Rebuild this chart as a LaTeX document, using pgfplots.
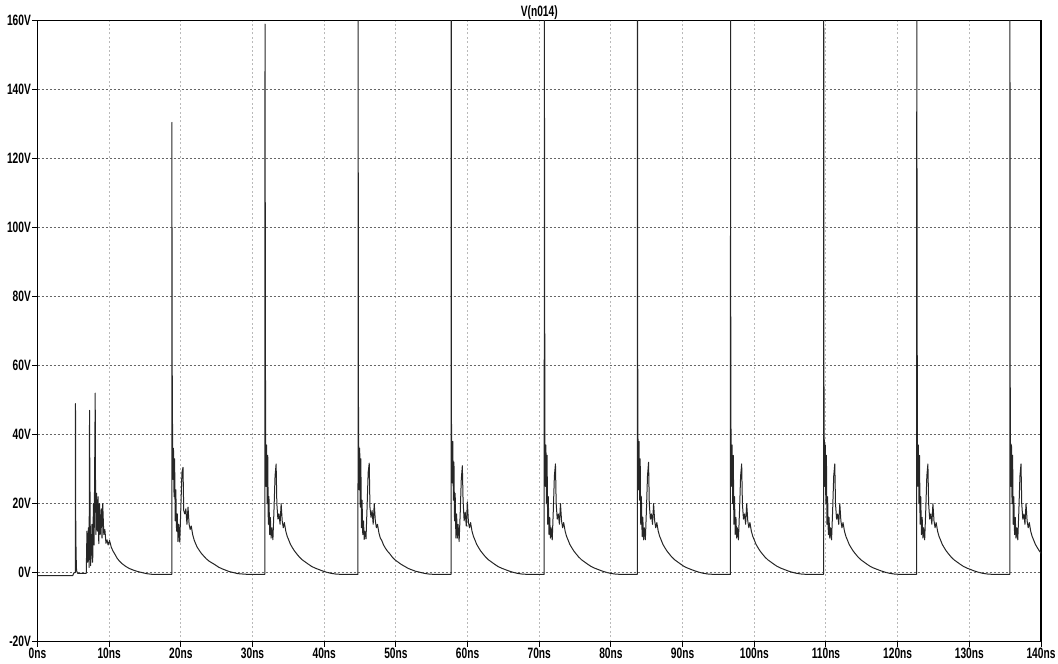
\documentclass[border=0pt]{standalone}
\usepackage{fontspec}
\setmainfont{Liberation Sans}[FakeStretch=0.68]
\usepackage{pgfplots}
\usepackage{pgfplotstable}
\pgfplotsset{compat=1.18}

% V(n014), time in ns, voltage in V
\pgfplotstableread{
t v
0 -0.9
4.9 -0.9
5.1 0
5.28 0
5.30 49
5.32 18.5
5.38 5.5
5.45 0.5
5.6 -0.2
6.8 -0.2
6.9 12
7.0 3
7.1 13
7.2 1.5
7.26 47
7.29 33
7.4 2
7.5 5
7.6 14
7.7 3
7.8 20
7.9 8
8.05 52
8.08 30
8.15 11
8.25 23
8.35 12
8.45 22
8.55 8.4
8.65 20
8.75 11
8.9 18.5
9.0 10
9.1 20
9.25 11
9.4 12.5
9.55 8.5
9.7 9.5
9.85 8
10.05 9.3
10.3 7.3
10.55 6.2
10.75 5.5
11.1 4.2
11.4 3.4
11.8 2.6
12.3 1.8
12.8 1.2
13.4 0.7
14.0 0.3
14.6 0.0
15.2 -0.3
16.0 -0.5
18.73 -0.5
18.75 130.5
18.78 65
18.83 44
18.90 27
18.97 36
19.05 22
19.13 33
19.21 15
19.30 24
19.40 12
19.50 17
19.60 9
19.70 14
19.85 8.8
20.00 19
20.15 29
20.30 30.5
20.40 18
20.55 17
20.70 18.5
20.85 14
21.00 19
21.15 14
21.30 12.5
21.45 13.5
21.65 11
21.85 9.5
22.05 8.4
22.30 7.3
22.55 6.5
22.85 5.6
23.15 4.9
23.55 4.0
23.95 3.3
24.35 2.8
24.75 2.3
25.25 1.6
25.75 1.1
26.25 0.7
26.75 0.3
27.35 0.0
27.95 -0.3
28.55 -0.4
29.25 -0.5
31.72 -0.5
31.74 159
31.77 112
31.82 38
31.89 25
31.96 37
32.04 20
32.12 34
32.20 14
32.29 22
32.39 11
32.49 16
32.59 10
32.69 13
32.84 9.5
32.99 18
33.14 28
33.29 31.5
33.39 20
33.54 15.5
33.69 17
33.84 14
33.99 20
34.14 15
34.29 13
34.44 14.5
34.64 12
34.84 10.5
35.04 9.5
35.29 8.2
35.54 7.3
35.84 6.3
36.14 5.5
36.54 4.5
36.94 3.7
37.34 3.1
37.74 2.5
38.24 1.8
38.74 1.3
39.24 0.9
39.74 0.5
40.34 0.1
40.94 -0.2
41.54 -0.4
42.24 -0.5
44.71 -0.5
44.73 200
44.76 56
44.81 38
44.88 24
44.95 36
45.03 19
45.11 33
45.19 13
45.28 21
45.38 11
45.48 15
45.58 9.6
45.68 12
45.83 9.8
45.98 19
46.13 29
46.28 31.7
46.38 19
46.53 16
46.68 18
46.83 14
46.98 20
47.13 15
47.28 13
47.43 14
47.63 11.5
47.83 10
48.03 9.3
48.28 8
48.53 7.1
48.83 6.2
49.13 5.5
49.53 4.4
49.93 3.6
50.33 3.0
50.73 2.4
51.23 1.8
51.73 1.2
52.23 0.8
52.73 0.4
53.33 0.1
53.93 -0.2
54.53 -0.4
55.23 -0.5
57.70 -0.5
57.72 200
57.75 44
57.80 37
57.87 26
57.94 38
58.02 21
58.10 32
58.18 15
58.27 23
58.37 10
58.47 17
58.57 10
58.67 14
58.82 9
58.97 17
59.12 27
59.27 31
59.37 21
59.52 15
59.67 17.5
59.82 13.5
59.97 20.5
60.12 14.5
60.27 13
60.42 14.5
60.62 12
60.82 10.5
61.02 9.5
61.27 8.2
61.52 7.3
61.82 6.3
62.12 5.5
62.52 4.5
62.92 3.7
63.32 3.1
63.72 2.5
64.22 1.8
64.72 1.3
65.22 0.9
65.72 0.5
66.32 0.1
66.92 -0.2
67.52 -0.4
68.22 -0.5
70.69 -0.5
70.71 200
70.74 103
70.79 38
70.86 25
70.93 37
71.01 20
71.09 34
71.17 14
71.26 22
71.36 11
71.46 16
71.56 10
71.66 13
71.81 9.5
71.96 18
72.11 28
72.26 31.5
72.36 20
72.51 15.5
72.66 17
72.81 14
72.96 20
73.11 15
73.26 13
73.41 14.5
73.61 12
73.81 10.5
74.01 9.5
74.26 8.2
74.51 7.3
74.81 6.3
75.11 5.5
75.51 4.5
75.91 3.7
76.31 3.1
76.71 2.5
77.21 1.8
77.71 1.3
78.21 0.9
78.71 0.5
79.31 0.1
79.91 -0.2
80.51 -0.4
81.21 -0.5
83.68 -0.5
83.70 200
83.73 65
83.78 36
83.85 24
83.92 38
84.00 21
84.08 33
84.16 14
84.25 22
84.35 10.5
84.45 16
84.55 9.5
84.65 13
84.80 9.5
84.95 18
85.10 28
85.25 32
85.35 20
85.50 15.5
85.65 17
85.80 14
85.95 20
86.10 15
86.25 13
86.40 14.5
86.60 12
86.80 10.5
87.00 9.5
87.25 8.2
87.50 7.3
87.80 6.3
88.10 5.5
88.50 4.5
88.90 3.7
89.30 3.1
89.70 2.5
90.20 1.8
90.70 1.3
91.20 0.9
91.70 0.5
92.30 0.1
92.90 -0.2
93.50 -0.4
94.20 -0.5
96.67 -0.5
96.69 200
96.72 47
96.77 38
96.84 25
96.91 37
96.99 20
97.07 34
97.15 14
97.24 22
97.34 11
97.44 16
97.54 10
97.64 13
97.79 9.5
97.94 18
98.09 28
98.24 31.5
98.34 20
98.49 15.5
98.64 17
98.79 14
98.94 20
99.09 15
99.24 13
99.39 14.5
99.59 12
99.79 10.5
99.99 9.5
100.24 8.2
100.49 7.3
100.79 6.3
101.09 5.5
101.49 4.5
101.89 3.7
102.29 3.1
102.69 2.5
103.19 1.8
103.69 1.3
104.19 0.9
104.69 0.5
105.29 0.1
105.89 -0.2
106.49 -0.4
107.19 -0.5
109.66 -0.5
109.68 200
109.71 60
109.76 38
109.83 25
109.90 37
109.98 20
110.06 34
110.14 14
110.23 22
110.33 11
110.43 16
110.53 10
110.63 13
110.78 9.5
110.93 18
111.08 28
111.23 31.5
111.33 20
111.48 15.5
111.63 17
111.78 14
111.93 20
112.08 15
112.23 13
112.38 14.5
112.58 12
112.78 10.5
112.98 9.5
113.23 8.2
113.48 7.3
113.78 6.3
114.08 5.5
114.48 4.5
114.88 3.7
115.28 3.1
115.68 2.5
116.18 1.8
116.68 1.3
117.18 0.9
117.68 0.5
118.28 0.1
118.88 -0.2
119.48 -0.4
120.18 -0.5
122.65 -0.5
122.67 200
122.70 112
122.75 38
122.82 25
122.89 37
122.97 20
123.05 34
123.13 14
123.22 22
123.32 11
123.42 16
123.52 10
123.62 13
123.77 9.5
123.92 18
124.07 28
124.22 31.5
124.32 20
124.47 15.5
124.62 17
124.77 14
124.92 20
125.07 15
125.22 13
125.37 14.5
125.57 12
125.77 10.5
125.97 9.5
126.22 8.2
126.47 7.3
126.77 6.3
127.07 5.5
127.47 4.5
127.87 3.7
128.27 3.1
128.67 2.5
129.17 1.8
129.67 1.3
130.17 0.9
130.67 0.5
131.27 0.1
131.87 -0.2
132.47 -0.4
133.17 -0.5
135.64 -0.5
135.66 200
135.69 62
135.74 38
135.81 25
135.88 37
135.96 20
136.04 34
136.12 14
136.21 22
136.31 11
136.41 16
136.51 10
136.61 13
136.76 9.5
136.91 18
137.06 28
137.21 31.5
137.31 20
137.46 15.5
137.61 17
137.76 14
137.91 20
138.06 15
138.21 13
138.36 14.5
138.56 12
138.76 10.5
138.96 9.5
139.21 8.2
139.46 7.3
139.76 6.3
140.06 5.5
}\vdata

\begin{document}
\begin{tikzpicture}
\begin{axis}[
    name=ax,
    scale only axis,
    width=501.75pt, height=310.5pt,
    xmin=0, xmax=140, ymin=-20, ymax=160,
    axis line style={black, line width=0.6pt},
    xtick={0,10,...,140},
    xticklabels={0ns,10ns,20ns,30ns,40ns,50ns,60ns,70ns,80ns,90ns,100ns,110ns,120ns,130ns,140ns},
    ytick={-20,0,...,160},
    yticklabels={-20V,0V,20V,40V,60V,80V,100V,120V,140V,160V},
    tick pos=left,
    tick align=outside,
    major tick length=2.5pt,
    tick style={black, line width=0.5pt},
    ticklabel style={font=\fontsize{7.5}{8}\selectfont\bfseries, inner sep=0.6pt},
    xmajorgrids, ymajorgrids,
    x grid style={gray!55, line width=0.5pt, dash pattern=on 1pt off 1.2pt},
    y grid style={black!60, line width=0.5pt, dash pattern=on 1pt off 1pt},
    title={V(n014)},
    every axis title shift=0pt,
    title style={at={(0.5,1)}, anchor=base, yshift=1.8pt, inner sep=0pt,
        font=\fontsize{7.5}{8}\selectfont\bfseries},
]
\addplot[black!85, line width=0.5pt, line join=round, mark=none] table[x=t, y=v] {\vdata};
\end{axis}
\pgfresetboundingbox
\path ([xshift=-18.75pt,yshift=-11.15pt]ax.south west) rectangle ([xshift=8.5pt,yshift=10.3pt]ax.north east);
\end{tikzpicture}
\end{document}
